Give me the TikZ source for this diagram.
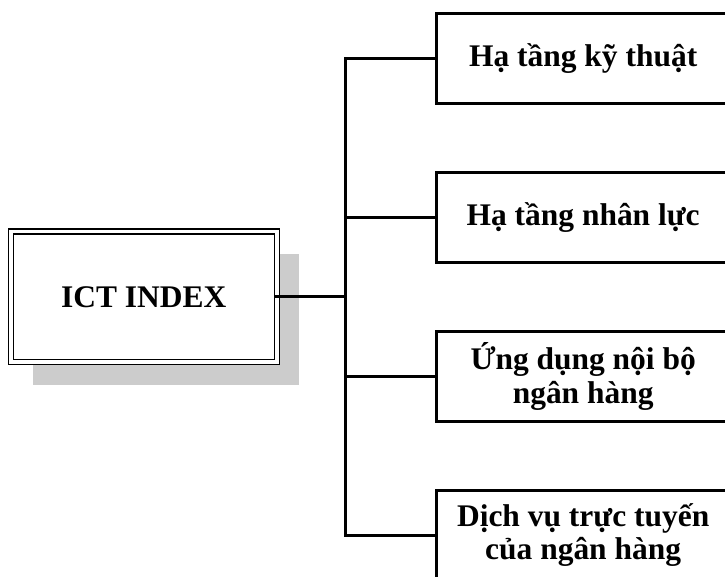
\documentclass[tikz,border=0pt]{standalone}
\usepackage{fontspec}
\setmainfont{Liberation Serif}
\usetikzlibrary{positioning,shadows}

\begin{document}
\begin{tikzpicture}[x=0.75pt,y=-0.75pt,
        link/.style={draw=black,line width=2.2pt,line cap=rect},
        main/.style={rectangle,draw=black,line width=0.9pt,double=white,
                     double distance=2.8pt,fill=white,outer sep=0pt,
                     minimum width=199.5pt,minimum height=97.9pt,
                     font=\fontsize{23.6}{25}\selectfont\bfseries,
                     drop shadow={shadow xshift=16.5pt,shadow yshift=-17pt,
                                  fill=black!20,opacity=1}},
        part/.style={rectangle,draw=black,line width=2.2pt,fill=white,
                     anchor=west,outer sep=0pt,align=center,
                     minimum width=220pt,minimum height=67.5pt,
                     font=\fontsize{23.6}{25}\selectfont\bfseries}]
        \useasboundingbox (0,0) rectangle (725,576);
        \clip (0,0) rectangle (725,576);
        % left box
        \node[main] (ict) at (143.8,296.8) {ICT INDEX};
        % branches
        \foreach \i/\y/\lbl in {1/58.8/{Hạ tầng kỹ thuật},
                                2/217.6/{Hạ tầng nhân lực},
                                3/376.4/{Ứng dụng nội bộ\\ngân hàng},
                                4/535.2/{Dịch vụ trực tuyến\\của ngân hàng}}{
          \coordinate (j\i) at (345.5,\y);
          \draw[link] (j\i) -- (436.5,\y);
          \node[part] (p\i) at (436.5,\y) {\lbl};
        }
        \draw[link] (j1) -- (j4);
        \draw[link] (ict.east) -- (ict.east -| j1);
      \end{tikzpicture}
\end{document}
